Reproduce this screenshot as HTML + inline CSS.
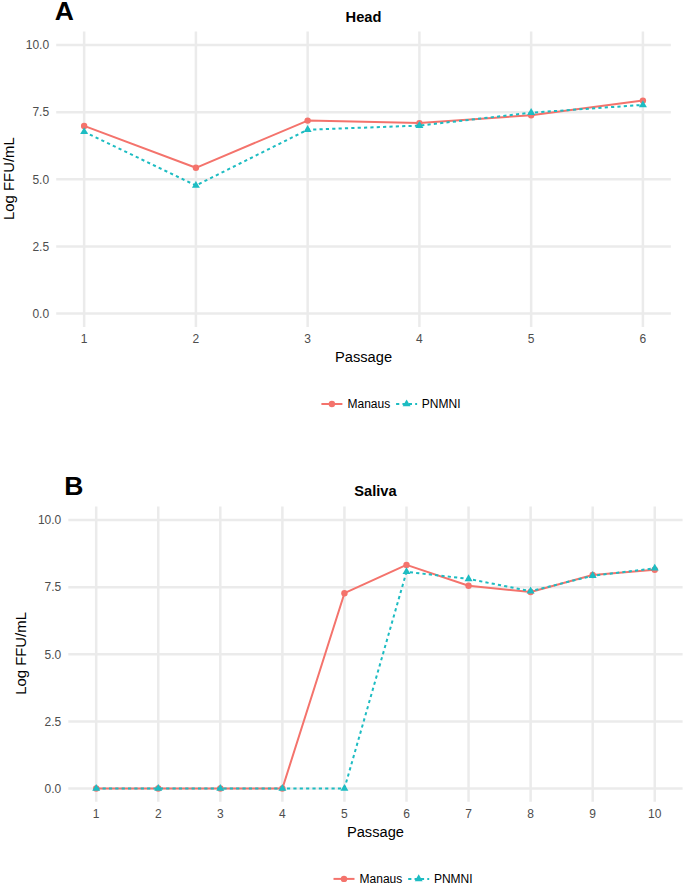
<!DOCTYPE html>
<html><head><meta charset="utf-8"><style>
html,body{margin:0;padding:0;background:#fff;width:685px;height:885px;overflow:hidden}
svg{display:block}
text{font-family:"Liberation Sans",sans-serif}
.ax{font-size:12px;fill:#4D4D4D}
.at{font-size:14.67px;fill:#000}
.ti{font-size:14.67px;font-weight:bold;fill:#000}
.yt{font-size:14.9px}
.tag{font-size:26.5px;font-weight:bold;fill:#000}
.lg{font-size:12px;fill:#000}
</style></head><body>
<svg width="685" height="885" viewBox="0 0 685 885">
<rect width="685" height="885" fill="#fff"/>
<line x1="56.2" x2="670.85" y1="313.5" y2="313.5" stroke="#EBEBEB" stroke-width="2.5"/>
<line x1="56.2" x2="670.85" y1="246.375" y2="246.375" stroke="#EBEBEB" stroke-width="2.5"/>
<line x1="56.2" x2="670.85" y1="179.25" y2="179.25" stroke="#EBEBEB" stroke-width="2.5"/>
<line x1="56.2" x2="670.85" y1="112.125" y2="112.125" stroke="#EBEBEB" stroke-width="2.5"/>
<line x1="56.2" x2="670.85" y1="45.0" y2="45.0" stroke="#EBEBEB" stroke-width="2.5"/>
<line x1="84.15" x2="84.15" y1="31.4" y2="327.0" stroke="#EBEBEB" stroke-width="2.5"/>
<line x1="195.90" x2="195.90" y1="31.4" y2="327.0" stroke="#EBEBEB" stroke-width="2.5"/>
<line x1="307.65" x2="307.65" y1="31.4" y2="327.0" stroke="#EBEBEB" stroke-width="2.5"/>
<line x1="419.40" x2="419.40" y1="31.4" y2="327.0" stroke="#EBEBEB" stroke-width="2.5"/>
<line x1="531.15" x2="531.15" y1="31.4" y2="327.0" stroke="#EBEBEB" stroke-width="2.5"/>
<line x1="642.90" x2="642.90" y1="31.4" y2="327.0" stroke="#EBEBEB" stroke-width="2.5"/>
<polyline points="84.15,125.90 195.90,167.80 307.65,120.60 419.40,123.10 531.15,115.20 642.90,100.60" fill="none" stroke="#F4736C" stroke-width="2.0" stroke-linejoin="round"/>
<circle cx="84.15" cy="125.90" r="3.2" fill="#F4736C"/>
<circle cx="195.90" cy="167.80" r="3.2" fill="#F4736C"/>
<circle cx="307.65" cy="120.60" r="3.2" fill="#F4736C"/>
<circle cx="419.40" cy="123.10" r="3.2" fill="#F4736C"/>
<circle cx="531.15" cy="115.20" r="3.2" fill="#F4736C"/>
<circle cx="642.90" cy="100.60" r="3.2" fill="#F4736C"/>
<polyline points="84.15,131.80 195.90,185.50 307.65,129.70 419.40,125.60 531.15,112.70 642.90,104.90" fill="none" stroke="#1DBCC2" stroke-width="2.0" stroke-dasharray="3.18 3.18" stroke-linejoin="round"/>
<path d="M84.15,127.20L88.13,134.10L80.17,134.10Z" fill="#1DBCC2"/>
<path d="M195.90,180.90L199.88,187.80L191.92,187.80Z" fill="#1DBCC2"/>
<path d="M307.65,125.10L311.63,132.00L303.67,132.00Z" fill="#1DBCC2"/>
<path d="M419.40,121.00L423.38,127.90L415.42,127.90Z" fill="#1DBCC2"/>
<path d="M531.15,108.10L535.13,115.00L527.17,115.00Z" fill="#1DBCC2"/>
<path d="M642.90,100.30L646.88,107.20L638.92,107.20Z" fill="#1DBCC2"/>
<text x="49.1" y="317.80" text-anchor="end" class="ax">0.0</text>
<text x="49.1" y="250.68" text-anchor="end" class="ax">2.5</text>
<text x="49.1" y="183.55" text-anchor="end" class="ax">5.0</text>
<text x="49.1" y="116.42" text-anchor="end" class="ax">7.5</text>
<text x="49.1" y="49.30" text-anchor="end" class="ax">10.0</text>
<text x="84.15" y="342.6" text-anchor="middle" class="ax">1</text>
<text x="195.90" y="342.6" text-anchor="middle" class="ax">2</text>
<text x="307.65" y="342.6" text-anchor="middle" class="ax">3</text>
<text x="419.40" y="342.6" text-anchor="middle" class="ax">4</text>
<text x="531.15" y="342.6" text-anchor="middle" class="ax">5</text>
<text x="642.90" y="342.6" text-anchor="middle" class="ax">6</text>
<text x="363.53" y="21.9" text-anchor="middle" class="ti">Head</text>
<text x="54.7" y="19.9" class="tag">A</text>
<text transform="translate(13.7,178.60) rotate(-90)" text-anchor="middle" class="at yt">Log FFU/mL</text>
<text x="363.53" y="361.6" text-anchor="middle" class="at">Passage</text>
<line x1="321.4" x2="342.4" y1="404.0" y2="404.0" stroke="#F4736C" stroke-width="2.0"/>
<circle cx="331.9" cy="404.0" r="3.2" fill="#F4736C"/>
<text x="347.5" y="408.2" class="lg">Manaus</text>
<line x1="396.09999999999997" x2="417.09999999999997" y1="404.0" y2="404.0" stroke="#1DBCC2" stroke-width="2.0" stroke-dasharray="3.18 3.18"/>
<path d="M406.60,399.40L410.58,406.30L402.62,406.30Z" fill="#1DBCC2"/>
<text x="421.79999999999995" y="408.2" class="lg">PNMNI</text>
<line x1="68.3" x2="682.6" y1="788.5" y2="788.5" stroke="#EBEBEB" stroke-width="2.5"/>
<line x1="68.3" x2="682.6" y1="721.375" y2="721.375" stroke="#EBEBEB" stroke-width="2.5"/>
<line x1="68.3" x2="682.6" y1="654.25" y2="654.25" stroke="#EBEBEB" stroke-width="2.5"/>
<line x1="68.3" x2="682.6" y1="587.125" y2="587.125" stroke="#EBEBEB" stroke-width="2.5"/>
<line x1="68.3" x2="682.6" y1="520.0" y2="520.0" stroke="#EBEBEB" stroke-width="2.5"/>
<line x1="96.20" x2="96.20" y1="506.4" y2="801.7" stroke="#EBEBEB" stroke-width="2.5"/>
<line x1="158.26" x2="158.26" y1="506.4" y2="801.7" stroke="#EBEBEB" stroke-width="2.5"/>
<line x1="220.32" x2="220.32" y1="506.4" y2="801.7" stroke="#EBEBEB" stroke-width="2.5"/>
<line x1="282.38" x2="282.38" y1="506.4" y2="801.7" stroke="#EBEBEB" stroke-width="2.5"/>
<line x1="344.44" x2="344.44" y1="506.4" y2="801.7" stroke="#EBEBEB" stroke-width="2.5"/>
<line x1="406.50" x2="406.50" y1="506.4" y2="801.7" stroke="#EBEBEB" stroke-width="2.5"/>
<line x1="468.56" x2="468.56" y1="506.4" y2="801.7" stroke="#EBEBEB" stroke-width="2.5"/>
<line x1="530.62" x2="530.62" y1="506.4" y2="801.7" stroke="#EBEBEB" stroke-width="2.5"/>
<line x1="592.68" x2="592.68" y1="506.4" y2="801.7" stroke="#EBEBEB" stroke-width="2.5"/>
<line x1="654.74" x2="654.74" y1="506.4" y2="801.7" stroke="#EBEBEB" stroke-width="2.5"/>
<polyline points="96.20,788.50 158.26,788.50 220.32,788.50 282.38,788.50 344.44,593.20 406.50,564.90 468.56,585.70 530.62,592.00 592.68,575.00 654.74,569.80" fill="none" stroke="#F4736C" stroke-width="2.0" stroke-linejoin="round"/>
<circle cx="96.20" cy="788.50" r="3.2" fill="#F4736C"/>
<circle cx="158.26" cy="788.50" r="3.2" fill="#F4736C"/>
<circle cx="220.32" cy="788.50" r="3.2" fill="#F4736C"/>
<circle cx="282.38" cy="788.50" r="3.2" fill="#F4736C"/>
<circle cx="344.44" cy="593.20" r="3.2" fill="#F4736C"/>
<circle cx="406.50" cy="564.90" r="3.2" fill="#F4736C"/>
<circle cx="468.56" cy="585.70" r="3.2" fill="#F4736C"/>
<circle cx="530.62" cy="592.00" r="3.2" fill="#F4736C"/>
<circle cx="592.68" cy="575.00" r="3.2" fill="#F4736C"/>
<circle cx="654.74" cy="569.80" r="3.2" fill="#F4736C"/>
<polyline points="96.20,788.50 158.26,788.50 220.32,788.50 282.38,788.50 344.44,788.50 406.50,571.80 468.56,578.90 530.62,591.20 592.68,575.70 654.74,568.30" fill="none" stroke="#1DBCC2" stroke-width="2.0" stroke-dasharray="3.18 3.18" stroke-linejoin="round"/>
<path d="M96.20,783.90L100.18,790.80L92.22,790.80Z" fill="#1DBCC2"/>
<path d="M158.26,783.90L162.24,790.80L154.28,790.80Z" fill="#1DBCC2"/>
<path d="M220.32,783.90L224.30,790.80L216.34,790.80Z" fill="#1DBCC2"/>
<path d="M282.38,783.90L286.36,790.80L278.40,790.80Z" fill="#1DBCC2"/>
<path d="M344.44,783.90L348.42,790.80L340.46,790.80Z" fill="#1DBCC2"/>
<path d="M406.50,567.20L410.48,574.10L402.52,574.10Z" fill="#1DBCC2"/>
<path d="M468.56,574.30L472.54,581.20L464.58,581.20Z" fill="#1DBCC2"/>
<path d="M530.62,586.60L534.60,593.50L526.64,593.50Z" fill="#1DBCC2"/>
<path d="M592.68,571.10L596.66,578.00L588.70,578.00Z" fill="#1DBCC2"/>
<path d="M654.74,563.70L658.72,570.60L650.76,570.60Z" fill="#1DBCC2"/>
<text x="61.3" y="792.80" text-anchor="end" class="ax">0.0</text>
<text x="61.3" y="725.67" text-anchor="end" class="ax">2.5</text>
<text x="61.3" y="658.55" text-anchor="end" class="ax">5.0</text>
<text x="61.3" y="591.42" text-anchor="end" class="ax">7.5</text>
<text x="61.3" y="524.30" text-anchor="end" class="ax">10.0</text>
<text x="96.20" y="818.1" text-anchor="middle" class="ax">1</text>
<text x="158.26" y="818.1" text-anchor="middle" class="ax">2</text>
<text x="220.32" y="818.1" text-anchor="middle" class="ax">3</text>
<text x="282.38" y="818.1" text-anchor="middle" class="ax">4</text>
<text x="344.44" y="818.1" text-anchor="middle" class="ax">5</text>
<text x="406.50" y="818.1" text-anchor="middle" class="ax">6</text>
<text x="468.56" y="818.1" text-anchor="middle" class="ax">7</text>
<text x="530.62" y="818.1" text-anchor="middle" class="ax">8</text>
<text x="592.68" y="818.1" text-anchor="middle" class="ax">9</text>
<text x="654.74" y="818.1" text-anchor="middle" class="ax">10</text>
<text x="375.45" y="496.4" text-anchor="middle" class="ti">Saliva</text>
<text x="64.3" y="495.3" class="tag">B</text>
<text transform="translate(25.7,653.45) rotate(-90)" text-anchor="middle" class="at yt">Log FFU/mL</text>
<text x="375.45" y="837.0" text-anchor="middle" class="at">Passage</text>
<line x1="333.5" x2="354.5" y1="878.9" y2="878.9" stroke="#F4736C" stroke-width="2.0"/>
<circle cx="344.0" cy="878.9" r="3.2" fill="#F4736C"/>
<text x="359.6" y="883.1" class="lg">Manaus</text>
<line x1="408.2" x2="429.2" y1="878.9" y2="878.9" stroke="#1DBCC2" stroke-width="2.0" stroke-dasharray="3.18 3.18"/>
<path d="M418.70,874.30L422.68,881.20L414.72,881.20Z" fill="#1DBCC2"/>
<text x="433.9" y="883.1" class="lg">PNMNI</text>
</svg>
</body></html>
